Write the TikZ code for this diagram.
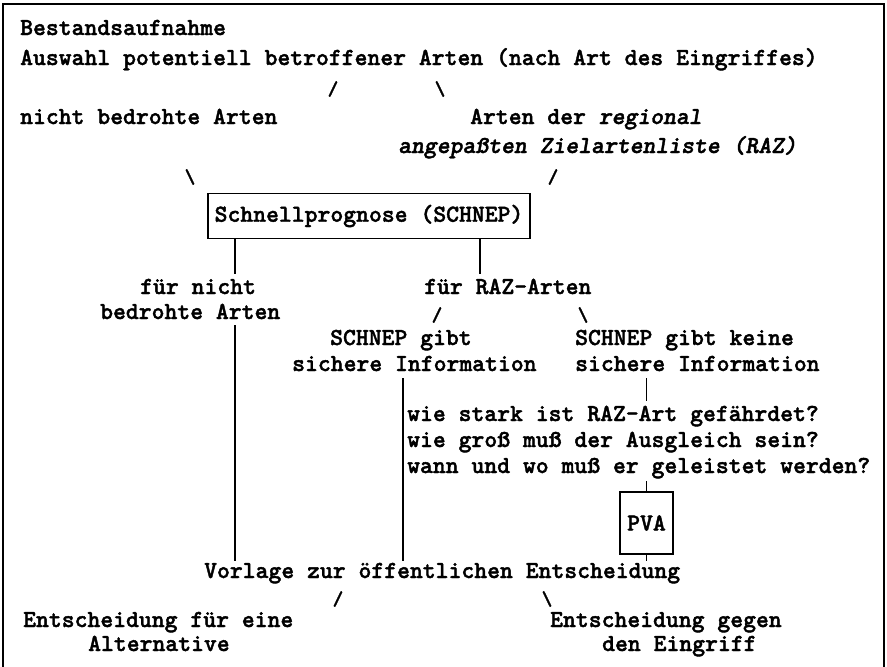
\documentclass[tikz,border=0pt]{standalone}
\usepackage{fontspec}
\newfontfamily\courb{lmmonolt10-bold.otf}[FakeBold=1.6, ItalicFont=lmmonolt10-boldoblique.otf, ItalicFeatures={FakeBold=1.6}]
\begin{document}
\begin{tikzpicture}[x=1pt,y=-1pt,
  txt/.style={inner sep=0pt, anchor=base west, font=\fontsize{24.5}{28}\selectfont\courb},
  sl/.style={inner sep=0pt, anchor=center, font=\fontsize{20}{22}\selectfont\courb},
  boxed/.style={draw, line width=1.4pt, inner sep=0pt, font=\fontsize{24.5}{28}\selectfont\courb},
  conn/.style={line width=1.3pt},
  frame/.style={line width=1.6pt}]
\useasboundingbox (0,0) rectangle (887,667);
\draw[frame] (3,4) rectangle (884,672);
% top block
\node[txt] (best) at (20,35) {Bestandsaufnahme};
\node[txt] (ausw) at (20,65) {Auswahl potentiell betroffener Arten (nach Art des Eingriffes)};
\node[sl] (s1) at (333,89) {/};
\node[sl] (s2) at (440,89) {\textbackslash};
\node[txt] (nba) at (20,124) {nicht bedrohte Arten};
\node[txt] (raz1) at (470,124) {Arten der {\itshape regional}};
\node[txt] (raz2) at (398,153) {\itshape angepaßten Zielartenliste (RAZ)};
\node[sl] (s3) at (190,177) {\textbackslash};
\node[sl] (s4) at (553,177) {/};
% box
\node[boxed, minimum width=322pt, minimum height=45pt] (schnep) at (369,216) {Schnellprognose (SCHNEP)};
\coordinate (a1) at (235,274);
\coordinate (b1) at (480,274);
\draw[conn] (schnep.south -| a1) -- (a1);
\draw[conn] (schnep.south -| b1) -- (b1);
\node[txt] (fn1) at (140,294) {für nicht};
\node[txt] (fn2) at (100,319) {bedrohte Arten};
\node[txt] (fr) at (424,294) {für RAZ-Arten};
\node[sl] (s5) at (437,315) {/};
\node[sl] (s6) at (583,315) {\textbackslash};
\node[txt] (sg1) at (330,345) {SCHNEP gibt};
\node[txt] (sg2) at (292,371) {sichere Information};
\node[txt] (sk1) at (575,345) {SCHNEP gibt keine};
\node[txt] (sk2) at (575,371) {sichere Information};
\node[txt] (q1) at (407,421) {wie stark ist RAZ-Art gefährdet?};
\node[txt] (q2) at (407,447) {wie groß muß der Ausgleich sein?};
\node[txt] (q3) at (407,473) {wann und wo muß er geleistet werden?};
\node[boxed, minimum width=53pt, minimum height=62pt] (pva) at (646.5,523) {PVA};
\node[txt] (vorl) at (204,578) {Vorlage zur öffentlichen Entscheidung};
\node[sl] (s7) at (338,599) {/};
\node[sl] (s8) at (547,599) {\textbackslash};
\node[txt] (ea1) at (23,627) {Entscheidung für eine};
\node[txt] (ea2) at (88,651) {Alternative};
\node[txt] (eg1) at (550,627) {Entscheidung gegen};
\node[txt] (eg2) at (602,651) {den Eingriff};
% connectors
\coordinate (a2) at (235,325);
\coordinate (c1) at (403,378);
\coordinate (d1) at (646.5,378);
\coordinate (d2) at (646.5,401);
\coordinate (d3) at (646.5,481);
\draw[conn, shorten >=2pt] (a2) -- (vorl.north -| a2);
\draw[conn, shorten >=2pt] (c1) -- (vorl.north -| c1);
\draw[conn] (d1) -- (d2);
\draw[conn] (d3) -- (pva.north);
\draw[conn, shorten >=2pt] (pva.south) -- (vorl.north -| pva.south);
\end{tikzpicture}
\end{document}
